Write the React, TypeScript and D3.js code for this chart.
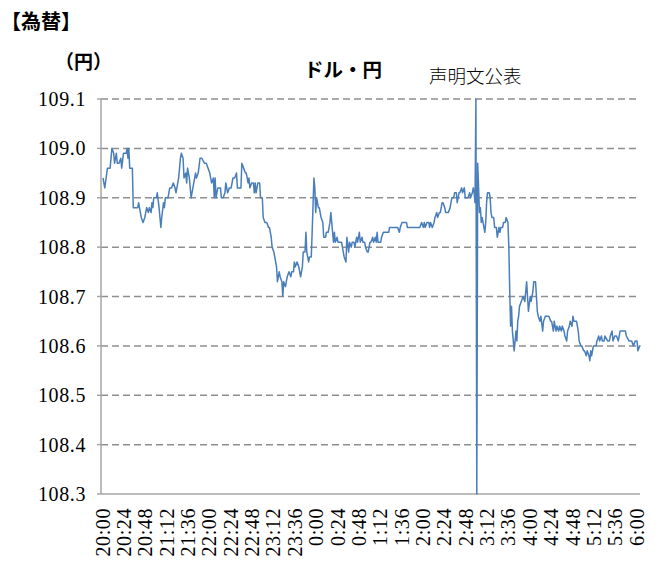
import React, { useEffect, useRef } from 'react';
import * as d3 from 'd3';

// minutes after 20:00 and the USD/JPY rate read at that minute
const minutes = [
  0, 2, 5, 8, 10, 12, 13, 15, 16, 18, 20, 21, 23, 26, 27, 28, 29, 30, 33, 34,
  39, 40, 42, 43, 45, 47, 49, 51, 52, 54, 55, 56, 57, 60, 61, 63, 65, 66, 68, 69,
  70, 73, 75, 77, 79, 81, 82, 84, 85, 87, 88, 90, 91, 93, 94, 95, 97, 99, 101, 102,
  104, 105, 107, 109, 111, 114, 116, 118, 120, 122, 124, 125, 126, 127, 129, 132, 133, 135, 137, 138,
  140, 142, 144, 146, 148, 150, 151, 153, 155, 156, 158, 160, 161, 163, 164, 165, 167, 169, 170, 171,
  172, 174, 176, 177, 179, 180, 182, 184, 186, 187, 189, 190, 192, 193, 195, 196, 198, 199, 201, 202,
  203, 205, 206, 207, 209, 211, 212, 214, 215, 216, 218, 220, 221, 222, 224, 225, 227, 228, 229, 231,
  232, 234, 235, 237, 238, 239, 240, 242, 243, 244, 245, 247, 248, 250, 251, 253, 255, 256, 257, 259,
  260, 261, 263, 264, 268, 270, 271, 273, 274, 276, 277, 279, 280, 282, 283, 285, 286, 288, 289, 291,
  292, 294, 295, 297, 298, 300, 301, 303, 304, 306, 307, 308, 309, 312, 313, 315, 321, 322, 331, 333,
  334, 336, 341, 342, 351, 356, 358, 360, 361, 362, 364, 366, 367, 368, 370, 372, 373, 375, 376, 378,
  379, 381, 382, 384, 385, 388, 390, 391, 392, 394, 395, 397, 398, 400, 401, 403, 404, 406, 407, 410,
  412, 413, 415, 416, 417, 418, 419, 420, 421, 422, 423, 424, 425, 426, 427, 429, 430, 431, 432, 434,
  435, 436, 437, 439, 440, 442, 443, 445, 446, 447, 449, 450, 452, 453, 455, 456, 457, 458, 459, 460,
  461, 462, 464, 465, 466, 467, 468, 470, 472, 474, 475, 476, 477, 478, 480, 481, 483, 484, 486, 487,
  488, 489, 491, 492, 494, 495, 497, 500, 501, 503, 504, 506, 507, 509, 510, 512, 513, 515, 516, 518,
  519, 521, 522, 524, 525, 527, 528, 529, 531, 532, 534, 535, 537, 538, 540, 541, 543, 544, 546, 547,
  548, 549, 551, 552, 554, 555, 557, 558, 560, 561, 563, 564, 567, 569, 570, 572, 573, 575, 577, 579,
  581, 587, 588, 591, 593, 594, 596, 598, 600, 601, 603, 604
];

const rates = [
  108.94, 108.92, 108.96, 108.96, 109.0, 108.99, 108.97, 108.99, 108.97, 108.97, 108.98, 108.96, 108.99, 108.99, 109.0, 108.98, 109.0, 108.96, 108.96, 108.88,
  108.88, 108.89, 108.87, 108.86, 108.85, 108.86, 108.88, 108.87, 108.88, 108.87, 108.89, 108.88, 108.9, 108.9, 108.91, 108.88, 108.84, 108.86, 108.89, 108.88,
  108.9, 108.9, 108.92, 108.92, 108.93, 108.92, 108.91, 108.93, 108.94, 108.98, 108.99, 108.98, 108.94, 108.95, 108.93, 108.96, 108.94, 108.9, 108.92, 108.93,
  108.95, 108.94, 108.95, 108.98, 108.98, 108.97, 108.97, 108.96, 108.95, 108.93, 108.94, 108.9, 108.94, 108.9, 108.92, 108.92, 108.9, 108.9, 108.91, 108.93,
  108.91, 108.92, 108.92, 108.94, 108.94, 108.95, 108.92, 108.92, 108.92, 108.97, 108.96, 108.95, 108.95, 108.93, 108.94, 108.92, 108.93, 108.93, 108.91, 108.93,
  108.91, 108.93, 108.93, 108.9, 108.9, 108.86, 108.85, 108.85, 108.84, 108.84, 108.82, 108.8, 108.79, 108.78, 108.76, 108.73, 108.75, 108.74, 108.73, 108.7,
  108.73, 108.72, 108.73, 108.74, 108.75, 108.74, 108.75, 108.75, 108.77, 108.76, 108.77, 108.76, 108.75, 108.74, 108.76, 108.79, 108.79, 108.83, 108.79, 108.77,
  108.78, 108.78, 108.83, 108.94, 108.92, 108.87, 108.9, 108.88, 108.88, 108.87, 108.86, 108.85, 108.82, 108.82, 108.83, 108.83, 108.85, 108.87, 108.85, 108.81,
  108.83, 108.81, 108.82, 108.81, 108.81, 108.79, 108.78, 108.77, 108.82, 108.79, 108.81, 108.8, 108.81, 108.81, 108.8, 108.82, 108.81, 108.83, 108.81, 108.82,
  108.81, 108.81, 108.8, 108.79, 108.79, 108.81, 108.81, 108.82, 108.81, 108.82, 108.81, 108.83, 108.81, 108.81, 108.82, 108.83, 108.83, 108.84, 108.84, 108.83,
  108.84, 108.85, 108.85, 108.84, 108.84, 108.84, 108.85, 108.84, 108.85, 108.84, 108.85, 108.85, 108.84, 108.85, 108.84, 108.85, 108.86, 108.87, 108.86, 108.87,
  108.87, 108.89, 108.89, 108.88, 108.87, 108.87, 108.88, 108.89, 108.9, 108.9, 108.91, 108.91, 108.89, 108.91, 108.91, 108.92, 108.91, 108.92, 108.9, 108.9,
  108.91, 108.9, 108.91, 108.92, 108.91, 108.89, 109.1, 108.3, 108.97, 108.92, 108.87, 108.88, 108.85, 108.86, 108.85, 108.83, 108.85, 108.89, 108.91, 108.91,
  108.9, 108.87, 108.86, 108.86, 108.84, 108.84, 108.82, 108.84, 108.83, 108.84, 108.84, 108.85, 108.85, 108.86, 108.85, 108.8, 108.71, 108.64, 108.68, 108.63,
  108.61, 108.59, 108.63, 108.61, 108.65, 108.66, 108.68, 108.69, 108.7, 108.69, 108.71, 108.73, 108.7, 108.67, 108.7, 108.69, 108.71, 108.73, 108.73, 108.7,
  108.67, 108.66, 108.65, 108.66, 108.63, 108.65, 108.66, 108.66, 108.66, 108.65, 108.65, 108.63, 108.65, 108.63, 108.64, 108.63, 108.64, 108.63, 108.64, 108.63,
  108.62, 108.61, 108.63, 108.64, 108.65, 108.64, 108.66, 108.65, 108.65, 108.65, 108.63, 108.61, 108.6, 108.6, 108.59, 108.59, 108.58, 108.59, 108.58, 108.57,
  108.59, 108.58, 108.6, 108.6, 108.6, 108.61, 108.62, 108.61, 108.62, 108.61, 108.61, 108.62, 108.61, 108.61, 108.62, 108.63, 108.61, 108.62, 108.62, 108.61,
  108.63, 108.63, 108.62, 108.61, 108.61, 108.61, 108.6, 108.61, 108.61, 108.59, 108.6, 108.6
];

const timeLabels = [
  '20:00', '20:24', '20:48', '21:12', '21:36', '22:00', '22:24', '22:48', '23:12', '23:36',
  '0:00', '0:24', '0:48', '1:12', '1:36', '2:00', '2:24', '2:48', '3:12', '3:36',
  '4:00', '4:24', '4:48', '5:12', '5:36', '6:00'
];
const labelMinutes = timeLabels.map((_, i) => i * 24);

const yTicks = [108.3, 108.4, 108.5, 108.6, 108.7, 108.8, 108.9, 109.0, 109.1];

const W = 658;
const H = 572;
const dm = { left: 101, right: 640, top: 99, bottom: 494 };
const serif = "'Times New Roman', 'Liberation Serif', Tinos, 'DejaVu Serif', serif";
const jp = "'Noto Sans CJK JP', 'Noto Sans', sans-serif";

export default function App() {
  const svgRef = useRef<SVGSVGElement>(null);

  useEffect(() => {
    const svg = d3.select(svgRef.current);
    svg.selectAll('*').remove();

    const x = d3.scaleLinear().domain([0, 600]).range([103, 637]);
    const y = d3.scaleLinear().domain([108.3, 109.1]).range([dm.bottom, dm.top]);

    // dashed gridlines
    svg.append('g')
      .selectAll('line')
      .data(yTicks.filter(v => v > 108.3))
      .enter()
      .append('line')
      .attr('x1', dm.left)
      .attr('x2', dm.right)
      .attr('y1', v => y(v))
      .attr('y2', v => y(v))
      .attr('stroke', '#8e8e8e')
      .attr('stroke-width', 1.5)
      .attr('stroke-dasharray', '7,4');

    // axes
    const axisColor = '#a6a6a6';
    svg.append('line')
      .attr('x1', dm.left).attr('x2', dm.left)
      .attr('y1', dm.top).attr('y2', dm.bottom)
      .attr('stroke', axisColor).attr('stroke-width', 1.5);
    svg.append('line')
      .attr('x1', dm.left).attr('x2', dm.right)
      .attr('y1', dm.bottom).attr('y2', dm.bottom)
      .attr('stroke', axisColor).attr('stroke-width', 1.5);
    svg.append('g')
      .selectAll('line')
      .data(yTicks)
      .enter()
      .append('line')
      .attr('x1', dm.left - 4).attr('x2', dm.left)
      .attr('y1', v => y(v)).attr('y2', v => y(v))
      .attr('stroke', axisColor).attr('stroke-width', 1.5);

    // y labels
    svg.append('g')
      .selectAll('text')
      .data(yTicks)
      .enter()
      .append('text')
      .attr('x', 86)
      .attr('y', v => y(v))
      .attr('dy', '0.35em')
      .attr('text-anchor', 'end')
      .style('font-family', serif)
      .style('font-size', '20px')
      .style('letter-spacing', '0.6px')
      .attr('fill', '#000')
      .text(v => v.toFixed(1));

    // x labels, rotated
    svg.append('g')
      .selectAll('text')
      .data(timeLabels)
      .enter()
      .append('text')
      .attr('transform', (d, i) => `translate(${x(labelMinutes[i])},508) rotate(-90)`)
      .attr('dy', '0.33em')
      .attr('text-anchor', 'end')
      .style('font-family', serif)
      .style('font-size', '20px')
      .style('letter-spacing', '0.6px')
      .attr('fill', '#000')
      .text(d => d);

    // rate line
    const line = d3.line<number>()
      .x((d, i) => x(minutes[i]))
      .y(d => y(d));
    svg.append('path')
      .datum(rates)
      .attr('d', line)
      .attr('fill', 'none')
      .attr('stroke', '#4a7ebb')
      .attr('stroke-width', 1.5)
      .attr('stroke-linejoin', 'round');

    // titles
    svg.append('text')
      .attr('x', 1).attr('y', 29)
      .style('font-family', jp).style('font-size', '20px').style('font-weight', 'bold')
      .text('【為替】');
    svg.append('text')
      .attr('x', 55).attr('y', 69)
      .style('font-family', jp).style('font-size', '19px').style('font-weight', 'bold')
      .text('（円）');
    svg.append('text')
      .attr('x', 304).attr('y', 77)
      .style('font-family', jp).style('font-size', '19.5px').style('font-weight', 'bold')
      .text('ドル・円');
    svg.append('text')
      .attr('x', 429).attr('y', 83)
      .style('font-family', jp).style('font-size', '18.5px').style('font-weight', 300)
      .text('声明文公表');
  }, []);

  return (
    <svg ref={svgRef} width={W} height={H}
      style={{ position: 'absolute', left: 0, top: 0, background: '#fff' }} />
  );
}
